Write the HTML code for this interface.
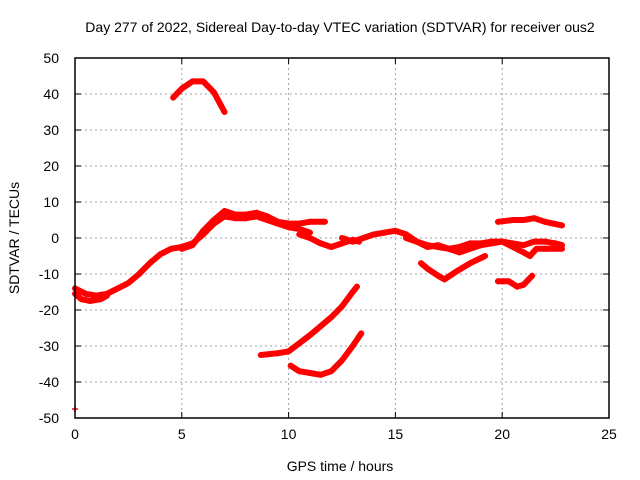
<!DOCTYPE html>
<html><head><meta charset="utf-8"><style>
body{margin:0;background:#fff;}
svg{display:block;font-family:"Liberation Sans",sans-serif;}
</style></head><body>
<svg id="chart" width="640" height="480" viewBox="0 0 640 480"></svg>
<script>
const xTicks=[0,5,10,15,20,25];
const yTicks=[50,40,30,20,10,0,-10,-20,-30,-40,-50];
const traceArc=[[4.6,39],[5,41.5],[5.5,43.5],[6,43.5],[6.5,40.5],[7,35]];
const traceMain=[[0,-14],[0.5,-15.5],[1,-16],[1.5,-15.5],[2,-14],[2.5,-12.5],[3,-10],[3.5,-7],[4,-4.5],[4.5,-3],[5,-2.5],[5.5,-1.5],[6,1],[6.5,4],[7,6],[7.5,5.5],[8,5.5],[8.5,6],[9,5],[9.5,4],[10,3],[10.5,2.5],[11,1.5]];
const traceLow=[[0,-15.5],[0.3,-17],[0.7,-17.5],[1.2,-17],[1.5,-16]];
const traceUpper=[[5,-3],[5.5,-2],[6,2],[6.5,5],[7,7.5],[7.5,6.5],[8,6.5],[8.5,7],[9,6],[9.5,4.5],[10,4],[10.5,4],[11,4.5],[11.7,4.5]];
const traceDip=[[10.5,1],[11,0],[11.5,-1.5],[12,-2.5],[12.5,-1.5],[13,-0.5],[13.3,-1]];
const traceMid1=[[12.5,0],[13,-1],[13.5,0],[14,1],[14.5,1.5],[15,2],[15.5,1],[16,-1],[16.5,-2],[17,-2.5],[17.5,-3],[18,-2.5],[18.5,-1.5],[19,-1.5],[19.5,-1],[20,-1],[20.5,-1.5],[21,-2],[21.5,-1],[22,-1],[22.5,-1.5],[22.8,-2]];
const traceMid2=[[15.5,0],[16,-1],[16.5,-2.5],[17,-2],[17.5,-3],[18,-4],[18.5,-3],[19,-2],[19.5,-1.5],[20,-1],[20.5,-2.5],[21,-4],[21.3,-5],[21.6,-3],[22,-3],[22.8,-3]];
const traceTopR=[[19.8,4.5],[20.5,5],[21,5],[21.5,5.5],[22,4.5],[22.8,3.5]];
const traceV=[[16.2,-7],[16.5,-8.5],[17,-10.5],[17.3,-11.5],[17.8,-9.5],[18.5,-7],[19.2,-5]];
const traceV2=[[19.8,-12],[20.3,-12],[20.7,-13.5],[21,-13],[21.4,-10.5]];
const traceLowA=[[8.7,-32.5],[9.5,-32],[10,-31.5],[11,-27],[12,-22],[12.5,-19],[13,-15],[13.2,-13.5]];
const traceLowB=[[10.1,-35.5],[10.5,-37],[11,-37.5],[11.5,-38],[12,-37],[12.5,-34],[13,-30],[13.4,-26.5]];
const traceDot=[[0,-47.5]];
const traces=[traceArc,traceMain,traceLow,traceUpper,traceDip,traceMid1,traceMid2,traceTopR,traceV,traceV2,traceLowA,traceLowB,traceDot];

const L=75,R=609,T=58,B=418;
const xs=v=>L+(v-0)/25*(R-L);
const ys=v=>B-(v+50)/100*(B-T);
const svg=document.getElementById('chart');
const NS='http://www.w3.org/2000/svg';
function mk(t,a,p){const e=document.createElementNS(NS,t);for(const k in a)e.setAttribute(k,a[k]);(p||svg).appendChild(e);return e;}

xTicks.forEach(v=>{
  const g=mk('line',{x1:xs(v),x2:xs(v),y1:T,y2:B,stroke:'#a0a0a0','stroke-dasharray':'2,3'});
  
  
  const tk=mk('path',{d:`M${xs(v)},${B}v-6M${xs(v)},${T}v6`,stroke:'#000'});
  
  
  const t=mk('text',{x:xs(v),y:B+21,'text-anchor':'middle','font-size':'14',fill:'#000'});
  t.textContent=v;
  
  
});
yTicks.forEach(v=>{
  const g=mk('line',{x1:L,x2:R,y1:ys(v),y2:ys(v),stroke:'#a0a0a0','stroke-dasharray':'2,3'});
  
  
  const tk=mk('path',{d:`M${L},${ys(v)}h6M${R},${ys(v)}h-6`,stroke:'#000'});
  
  
  const t=mk('text',{x:L-16,y:ys(v)+5,'text-anchor':'end','font-size':'14',fill:'#000'});
  t.textContent=v;
  
  
});
traces.forEach(tr=>{
  const pts=tr.map(p=>xs(p[0])+','+ys(p[1])).join(' ');
  if(tr.length>1){
    const pl=mk('polyline',{points:pts,fill:'none',stroke:'#ff0000','stroke-width':'6','stroke-linejoin':'round','stroke-linecap':'round'});
    
    
  }
  tr.forEach(p=>{
    const x=xs(p[0]),y=ys(p[1]);
    const m=mk('path',{d:`M${x-3},${y}H${x+3}M${x},${y-3}V${y+3}`,stroke:'#ff0000','stroke-width':'1.5'});
    
    
  });
});
const f=mk('rect',{x:L,y:T,width:R-L,height:B-T,fill:'none',stroke:'#000','stroke-width':'1.5'});


</script>
<svg style="position:absolute;left:0;top:0" width="640" height="480">
<text x="340" y="32" text-anchor="middle" font-size="14" font-family="Liberation Sans, sans-serif">Day 277 of 2022, Sidereal Day-to-day VTEC variation (SDTVAR) for receiver ous2</text>
<text x="340" y="471" text-anchor="middle" font-size="14" font-family="Liberation Sans, sans-serif">GPS time / hours</text>
<text transform="translate(19,238) rotate(-90)" text-anchor="middle" font-size="14" font-family="Liberation Sans, sans-serif">SDTVAR / TECUs</text>
</svg>
</body></html>
